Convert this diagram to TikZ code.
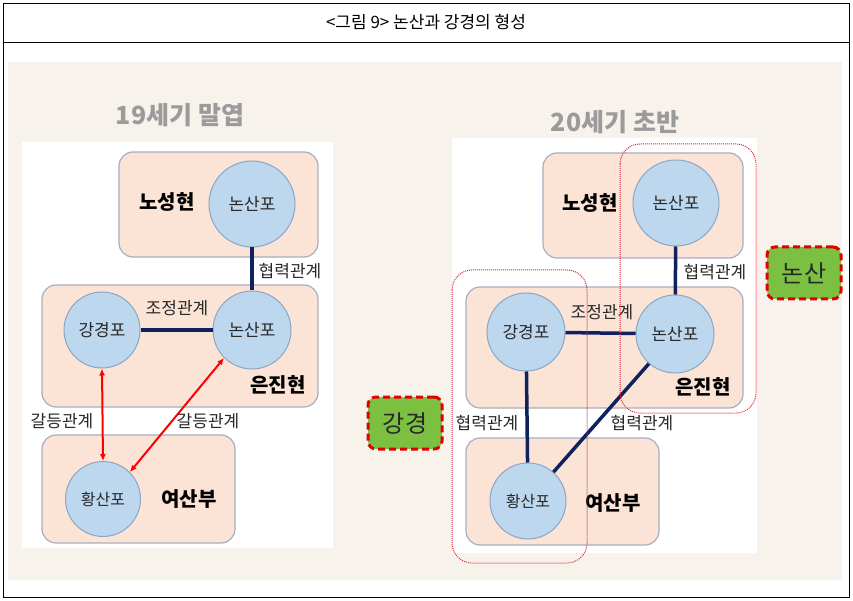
\documentclass[tikz,border=0pt]{standalone}
\usepackage{fontspec}
\setmainfont{Noto Sans CJK KR}
\usetikzlibrary{arrows.meta}
\definecolor{bgbeige}{RGB}{247,243,236}
\definecolor{peach}{RGB}{251,228,214}
\definecolor{boxedge}{RGB}{165,175,192}
\definecolor{circfill}{RGB}{189,215,238}
\definecolor{circedge}{RGB}{140,165,195}
\definecolor{navy}{RGB}{16,32,96}
\definecolor{titlegray}{RGB}{155,155,155}
\definecolor{grpred}{RGB}{220,40,60}
\definecolor{lblgreen}{RGB}{124,192,66}
\definecolor{lblred}{RGB}{225,0,0}
\definecolor{txt}{RGB}{40,40,40}
\tikzset{
  region/.style={draw=boxedge, line width=1.2pt, fill=peach, rounded corners=14pt},
  port/.style={circle, draw=circedge, line width=1pt, fill=circfill, inner sep=0pt, text=txt, font=\fontsize{17}{20}\selectfont},
  regname/.style={font=\fontsize{20}{24}\selectfont\bfseries, text=black},
  rel/.style={font=\fontsize{17}{20}\selectfont, text=txt},
  tie/.style={draw=navy, line width=3.5pt},
  conflict/.style={draw=red, line width=2pt, {Latex[length=7pt,width=6pt]}-{Latex[length=7pt,width=6pt]}},
  grp/.style={draw=grpred, line width=1pt, dash pattern=on 1pt off 1pt, rounded corners=20pt},
  tag/.style={draw=lblred, line width=3pt, dash pattern=on 7pt off 4pt, fill=lblgreen, rounded corners=8pt, font=\fontsize{24}{28}\selectfont, text=txt, inner sep=0pt},
  periodtitle/.style={font=\fontsize{25}{30}\selectfont\bfseries, text=titlegray}
}
\begin{document}
\begin{tikzpicture}[x=1pt,y=-1pt]
\useasboundingbox (0,0) rectangle (853,601);
\fill[white] (0,0) rectangle (853,601);
% frame
\draw[line width=1pt] (3,4) rectangle (849,597);
\draw[line width=1pt] (3,43) -- (849,43);
\node[font=\fontsize{17}{20}\selectfont] (title) at (426,22) {<그림 9> 논산과 강경의 형성};
% background
\fill[bgbeige] (8,62) rectangle (842,580);
\fill[white] (22,142) rectangle (333,548);
\fill[white] (452,138) rectangle (757,553);
% titles
\node[periodtitle] (t1) at (180,115) {19세기 말엽};
\node[periodtitle] (t2) at (615,122) {20세기 초반};

% ---------- left panel ----------
\path[region] (119,152) rectangle (318,257);
\path[region] (42,285) rectangle (318,407);
\path[region] (42,435) rectangle (235,543);
\node[regname] (Lnos) at (167,202) {노성현};
\node[regname] (Leun) at (278,385) {은진현};
\node[regname] (Lyeo) at (189,499) {여산부};
\node[port, minimum size=86pt] (Lnon1) at (252,204) {논산포};
\node[port, minimum size=76pt] (Lkang) at (102,330) {강경포};
\node[port, minimum size=78pt] (Lnon2) at (252,330) {논산포};
\node[port, minimum size=75pt, font=\fontsize{16}{19}\selectfont] (Lhwang) at (103,499) {황산포};
\draw[tie] (Lnon1) -- (Lnon2);
\draw[tie] (Lkang) -- (Lnon2);
\draw[conflict] (Lkang.south) -- (Lhwang.north);
\draw[conflict] (Lnon2.225) -- (Lhwang.45);
\node[rel] (Lr1) at (290,271) {협력관계};
\node[rel] (Lr2) at (177,308) {조정관계};
\node[rel] (Lr3) at (62,421) {갈등관계};
\node[rel] (Lr4) at (208,421) {갈등관계};

% ---------- right panel ----------
\path[region] (543,153) rectangle (743,258);
\path[region] (466,287) rectangle (743,408);
\path[region] (466,438) rectangle (659,545);
\node[regname] (Rnos) at (590,203) {노성현};
\node[regname] (Reun) at (703,387) {은진현};
\node[regname] (Ryeo) at (613,503) {여산부};
\node[port, minimum size=86pt] (Rnon1) at (676,203) {논산포};
\node[port, minimum size=78pt] (Rkang) at (526,332) {강경포};
\node[port, minimum size=78pt] (Rnon2) at (675,334) {논산포};
\node[port, minimum size=76pt, font=\fontsize{16}{19}\selectfont] (Rhwang) at (528,501) {황산포};
\draw[tie] (Rnon1) -- (Rnon2);
\draw[tie] (Rkang) -- (Rnon2);
\draw[tie] (Rkang) -- (Rhwang);
\draw[tie] (Rnon2) -- (Rhwang);
\node[rel] (Rr1) at (715,272) {협력관계};
\node[rel] (Rr2) at (602,312) {조정관계};
\node[rel] (Rr3) at (487,423) {협력관계};
\node[rel] (Rr4) at (642,423) {협력관계};
% groups
\draw[grp] (620,144) rectangle (756,413);
\draw[grp] (452,270) rectangle (587,563);
% tags
\node[tag, minimum width=74pt, minimum height=52pt] (tagnon) at (804,273) {논산};
\node[tag, minimum width=74pt, minimum height=52pt] (tagkang) at (405,423) {강경};
\end{tikzpicture}
\end{document}
